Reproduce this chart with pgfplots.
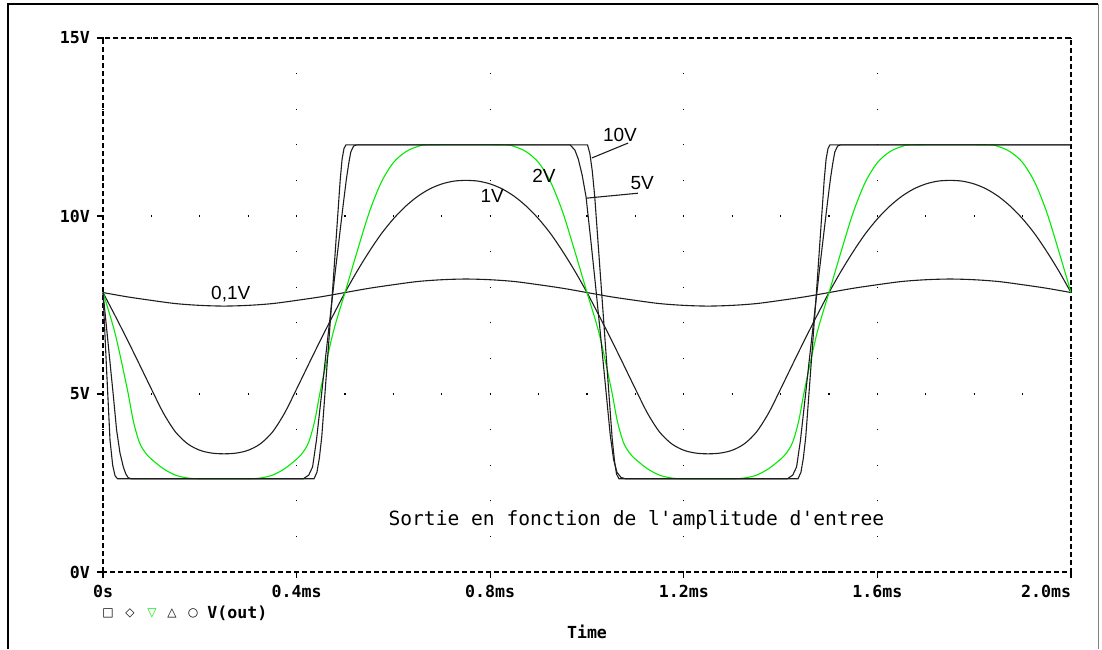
\documentclass[border=0pt]{standalone}
\usepackage{pgfplots}
\pgfplotsset{compat=1.18}
\usepackage{fontspec}
\setmainfont{Liberation Sans}
\setmonofont{DejaVu Sans Mono}
\newfontfamily\symfont{DejaVu Sans}
\definecolor{pgreen}{RGB}{0,235,0}
\definecolor{curve}{RGB}{30,30,30}
\newcommand{\tickfont}{\ttfamily\bfseries\fontsize{8.3}{10}\selectfont}
\begin{document}
\begin{tikzpicture}
\begin{axis}[
  at={(51.5pt,-286pt)}, anchor=origin,
  scale only axis, width=484pt, height=267pt,
  xmin=0, xmax=2, ymin=0, ymax=15,
  clip=false,
  xtick={0,0.4,0.8,1.2,1.6,2.0},
  xticklabels={0s,0.4ms,0.8ms,1.2ms,1.6ms,\makebox[0pt][r]{2.0ms}},
  ytick={0,5,10,15},
  yticklabels={0V,5V,10V,15V},
  tick label style={font=\tickfont},
  tick pos=left,
  tick align=outside, major tick length=3pt,
  tick style={black, solid, line width=0.6pt},
  axis line style={black, line width=0.6pt, dash pattern=on 2.5pt off 1.5pt},
  xmajorgrids, ymajorgrids,
  major x grid style={black, line width=0.6pt, dash pattern=on 0.6pt off 17.2pt, dash phase=0.3pt},
  major y grid style={black, line width=0.6pt, dash pattern=on 0.6pt off 23.6pt, dash phase=0.3pt},
  every axis plot/.append style={line width=0.55pt},
]
% 0.1V
\addplot[curve, smooth] coordinates {(0,7.85)(0.05,7.73)(0.1,7.63)(0.15,7.54)(0.2,7.49)(0.25,7.47)(0.3,7.49)(0.35,7.54)(0.4,7.63)(0.45,7.73)(0.5,7.85)(0.55,7.97)(0.6,8.07)(0.65,8.16)(0.7,8.21)(0.75,8.23)(0.8,8.21)(0.85,8.16)(0.9,8.07)(0.95,7.97)(1.0,7.85)(1.05,7.73)(1.1,7.63)(1.15,7.54)(1.2,7.49)(1.25,7.47)(1.3,7.49)(1.35,7.54)(1.4,7.63)(1.45,7.73)(1.5,7.85)(1.55,7.97)(1.6,8.07)(1.65,8.16)(1.7,8.21)(1.75,8.23)(1.8,8.21)(1.85,8.16)(1.9,8.07)(1.95,7.97)(2.0,7.85)};
% 1V
\addplot[curve, smooth] coordinates {(0,7.85)(0.025,7.20)(0.05,6.53)(0.075,5.84)(0.1,5.14)(0.125,4.46)(0.15,3.93)(0.175,3.60)(0.2,3.42)(0.225,3.34)(0.25,3.32)(0.275,3.34)(0.3,3.42)(0.325,3.60)(0.35,3.93)(0.375,4.46)(0.4,5.14)(0.425,5.84)(0.45,6.53)(0.475,7.20)(0.5,7.85)(0.525,8.45)(0.55,9.00)(0.575,9.50)(0.6,9.92)(0.625,10.27)(0.65,10.55)(0.675,10.76)(0.7,10.90)(0.725,10.98)(0.75,11.00)(0.775,10.98)(0.8,10.90)(0.825,10.76)(0.85,10.55)(0.875,10.27)(0.9,9.92)(0.925,9.50)(0.95,9.00)(0.975,8.45)(1.0,7.85)(1.025,7.20)(1.05,6.53)(1.075,5.84)(1.1,5.14)(1.125,4.46)(1.15,3.93)(1.175,3.60)(1.2,3.42)(1.225,3.34)(1.25,3.32)(1.275,3.34)(1.3,3.42)(1.325,3.60)(1.35,3.93)(1.375,4.46)(1.4,5.14)(1.425,5.84)(1.45,6.53)(1.475,7.20)(1.5,7.85)(1.525,8.45)(1.55,9.00)(1.575,9.50)(1.6,9.92)(1.625,10.27)(1.65,10.55)(1.675,10.76)(1.7,10.90)(1.725,10.98)(1.75,11.00)(1.775,10.98)(1.8,10.90)(1.825,10.76)(1.85,10.55)(1.875,10.27)(1.9,9.92)(1.925,9.50)(1.95,9.00)(1.975,8.45)(2.0,7.85)};
% 2V (green)
\addplot[pgreen, smooth] coordinates {(0,7.85)(0.025,6.70)(0.05,5.15)(0.0625,4.25)(0.075,3.65)(0.0875,3.35)(0.1,3.17)(0.125,2.90)(0.15,2.72)(0.175,2.64)(0.2,2.62)(0.3,2.62)(0.325,2.64)(0.35,2.72)(0.375,2.90)(0.4,3.17)(0.4125,3.35)(0.425,3.65)(0.4375,4.25)(0.45,5.15)(0.475,6.70)(0.5,7.85)(0.525,9.00)(0.55,10.10)(0.575,10.95)(0.6,11.50)(0.625,11.80)(0.65,11.95)(0.675,12.00)(0.825,12.00)(0.85,11.95)(0.875,11.80)(0.9,11.50)(0.925,10.95)(0.95,10.10)(0.975,9.00)(1.0,7.85)(1.025,6.70)(1.05,5.15)(1.0625,4.25)(1.075,3.65)(1.0875,3.35)(1.1,3.17)(1.125,2.90)(1.15,2.72)(1.175,2.64)(1.2,2.62)(1.3,2.62)(1.325,2.64)(1.35,2.72)(1.375,2.90)(1.4,3.17)(1.4125,3.35)(1.425,3.65)(1.4375,4.25)(1.45,5.15)(1.475,6.70)(1.5,7.85)(1.525,9.00)(1.55,10.10)(1.575,10.95)(1.6,11.50)(1.625,11.80)(1.65,11.95)(1.675,12.00)(1.825,12.00)(1.85,11.95)(1.875,11.80)(1.9,11.50)(1.925,10.95)(1.95,10.10)(1.975,9.00)(2.0,7.85)};
% 5V
\addplot[curve] coordinates {(0,7.85)(0.01,6.50)(0.021,5.00)(0.028,4.00)(0.035,3.35)(0.042,2.95)(0.047,2.76)(0.052,2.65)(0.058,2.62)(0.414,2.62)(0.425,2.72)(0.433,2.95)(0.441,3.70)(0.45,4.80)(0.46,6.05)(0.47,7.25)(0.48,8.45)(0.49,9.60)(0.497,10.40)(0.503,11.05)(0.508,11.50)(0.512,11.80)(0.518,11.97)(0.525,12.00)(0.965,12.00)(0.975,11.85)(0.982,11.60)(0.99,11.15)(0.998,10.54)(1.008,9.30)(1.018,8.00)(1.028,6.65)(1.038,5.25)(1.048,3.85)(1.055,3.15)(1.062,2.80)(1.07,2.66)(1.079,2.62)(1.414,2.62)(1.425,2.72)(1.433,2.95)(1.441,3.70)(1.45,4.80)(1.46,6.05)(1.47,7.25)(1.48,8.45)(1.49,9.60)(1.497,10.40)(1.503,11.05)(1.508,11.50)(1.512,11.80)(1.518,11.97)(1.525,12.00)(2.0,12.00)};
% 10V
\addplot[curve] coordinates {(0,7.85)(0.007,5.80)(0.0145,3.70)(0.02,3.00)(0.025,2.70)(0.03,2.62)(0.436,2.62)(0.442,2.80)(0.447,3.20)(0.452,3.80)(0.474,7.85)(0.49,11.00)(0.494,11.60)(0.498,11.90)(0.502,12.00)(1.001,12.00)(1.006,11.75)(1.011,11.25)(1.016,10.54)(1.030,7.90)(1.045,5.05)(1.052,3.75)(1.057,3.10)(1.061,2.75)(1.066,2.62)(1.436,2.62)(1.442,2.80)(1.447,3.20)(1.452,3.80)(1.474,7.85)(1.49,11.00)(1.494,11.60)(1.498,11.90)(1.502,12.00)(2.0,12.00)};
% annotations
\begin{scope}[font=\fontsize{9.5}{11}\selectfont, inner sep=0pt]
\node at (axis cs:1.068,12.27) {10V};
\node at (axis cs:1.114,10.92) {5V};
\node at (axis cs:0.911,11.12) {2V};
\node at (axis cs:0.804,10.56) {1V};
\node at (axis cs:0.264,7.80) {0,1V};
\end{scope}
\draw[curve, line width=0.55pt] (axis cs:1.085,12.05) -- (axis cs:1.010,11.63);
\draw[curve, line width=0.55pt] (axis cs:1.105,10.64) -- (axis cs:0.998,10.50);
\node[font=\ttfamily\fontsize{9.8}{12}\selectfont, inner sep=0pt] at (axis cs:1.102,1.45) {Sortie en fonction de l'amplitude d'entree};
\end{axis}
\begin{scope}[x=0.5pt,y=-0.5pt]
\draw[line width=1pt] (8,649) -- (8,4) -- (1098,4);
\draw[gray, line width=0.5pt] (1098,4) -- (1098,649);
\node[font=\tickfont, inner sep=0pt] at (587,632) {Time};
\node[font=\symfont\fontsize{6}{7}\selectfont, inner sep=0pt] at (108,613) {□};
\node[font=\symfont\fontsize{6}{7}\selectfont, inner sep=0pt] at (130,613) {◇};
\node[font=\symfont\fontsize{6}{7}\selectfont, inner sep=0pt, text=pgreen] at (152,613) {▽};
\node[font=\symfont\fontsize{6}{7}\selectfont, inner sep=0pt] at (172,613) {△};
\node[font=\symfont\fontsize{6}{7}\selectfont, inner sep=0pt] at (193,613) {○};
\node[font=\tickfont, inner sep=0pt, anchor=west] at (207,613) {V(out)};
\end{scope}
\pgfresetboundingbox
\useasboundingbox (0,0) rectangle (551pt,-324.5pt);
\end{tikzpicture}
\end{document}
